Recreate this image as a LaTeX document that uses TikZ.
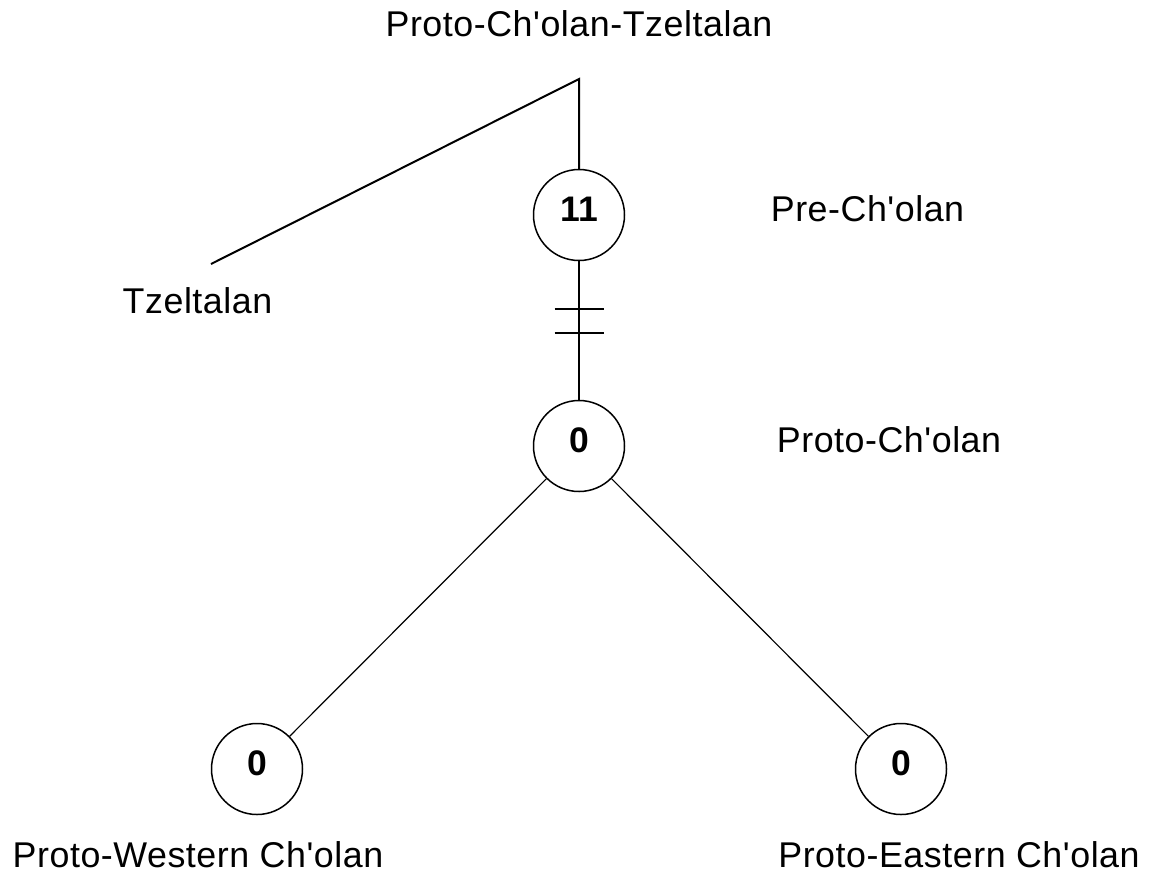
\documentclass[tikz,border=0pt]{standalone}
\usepackage{fontspec}
\newfontfamily\labelfont[LetterSpace=1.5]{Liberation Sans}
\newfontfamily\numfont{Liberation Sans}
\begin{document}
\begin{tikzpicture}[x=1pt,y=-1pt,
  lbl/.style={font=\labelfont\fontsize{35.8}{40}\selectfont, inner sep=0pt, anchor=base},
  stage/.style={circle, draw, line width=1.5pt, minimum size=91pt, inner sep=0pt,
    font=\numfont\bfseries\fontsize{35.5}{40}\selectfont, text height=25pt, text depth=13pt},
  stem/.style={line width=2pt},
  branch/.style={line width=1.2pt}]
\useasboundingbox[fill=white] (0,0) rectangle (1153,871);

% tree nodes
\node[stage] (n11) at (579,215) {11};
\node[stage] (n0)  at (579,446) {0};
\node[stage] (nw)  at (257,769) {0};
\node[stage] (ne)  at (901,769) {0};
\coordinate (apex) at (579,79);
\coordinate (tz) at (211,264);

% labels
\node[lbl] (lpct) at (579,36) {Proto-Ch'olan-Tzeltalan};
\node[lbl] (lpre) at (867.5,221) {Pre-Ch'olan};
\node[lbl] (ltz)  at (197.5,313) {Tzeltalan};
\node[lbl] (lpc)  at (889,452) {Proto-Ch'olan};
\node[lbl] (lpw)  at (198,867.5) {Proto-Western Ch'olan};
\node[lbl] (lpe)  at (959,867.5) {Proto-Eastern Ch'olan};

% connectors
\draw[stem] (tz) -- (apex) -- (n11);
\draw[stem] (n11) -- (n0);
\draw[branch] (n0) -- (nw);
\draw[branch] (n0) -- (ne);

% double bar across the Pre-Ch'olan stem
\coordinate (b1) at (579,309);
\coordinate (b2) at (579,333);
\draw[stem] (b1) ++(-24.5,0) -- ++(49,0);
\draw[stem] (b2) ++(-24.5,0) -- ++(49,0);
\end{tikzpicture}
\end{document}
